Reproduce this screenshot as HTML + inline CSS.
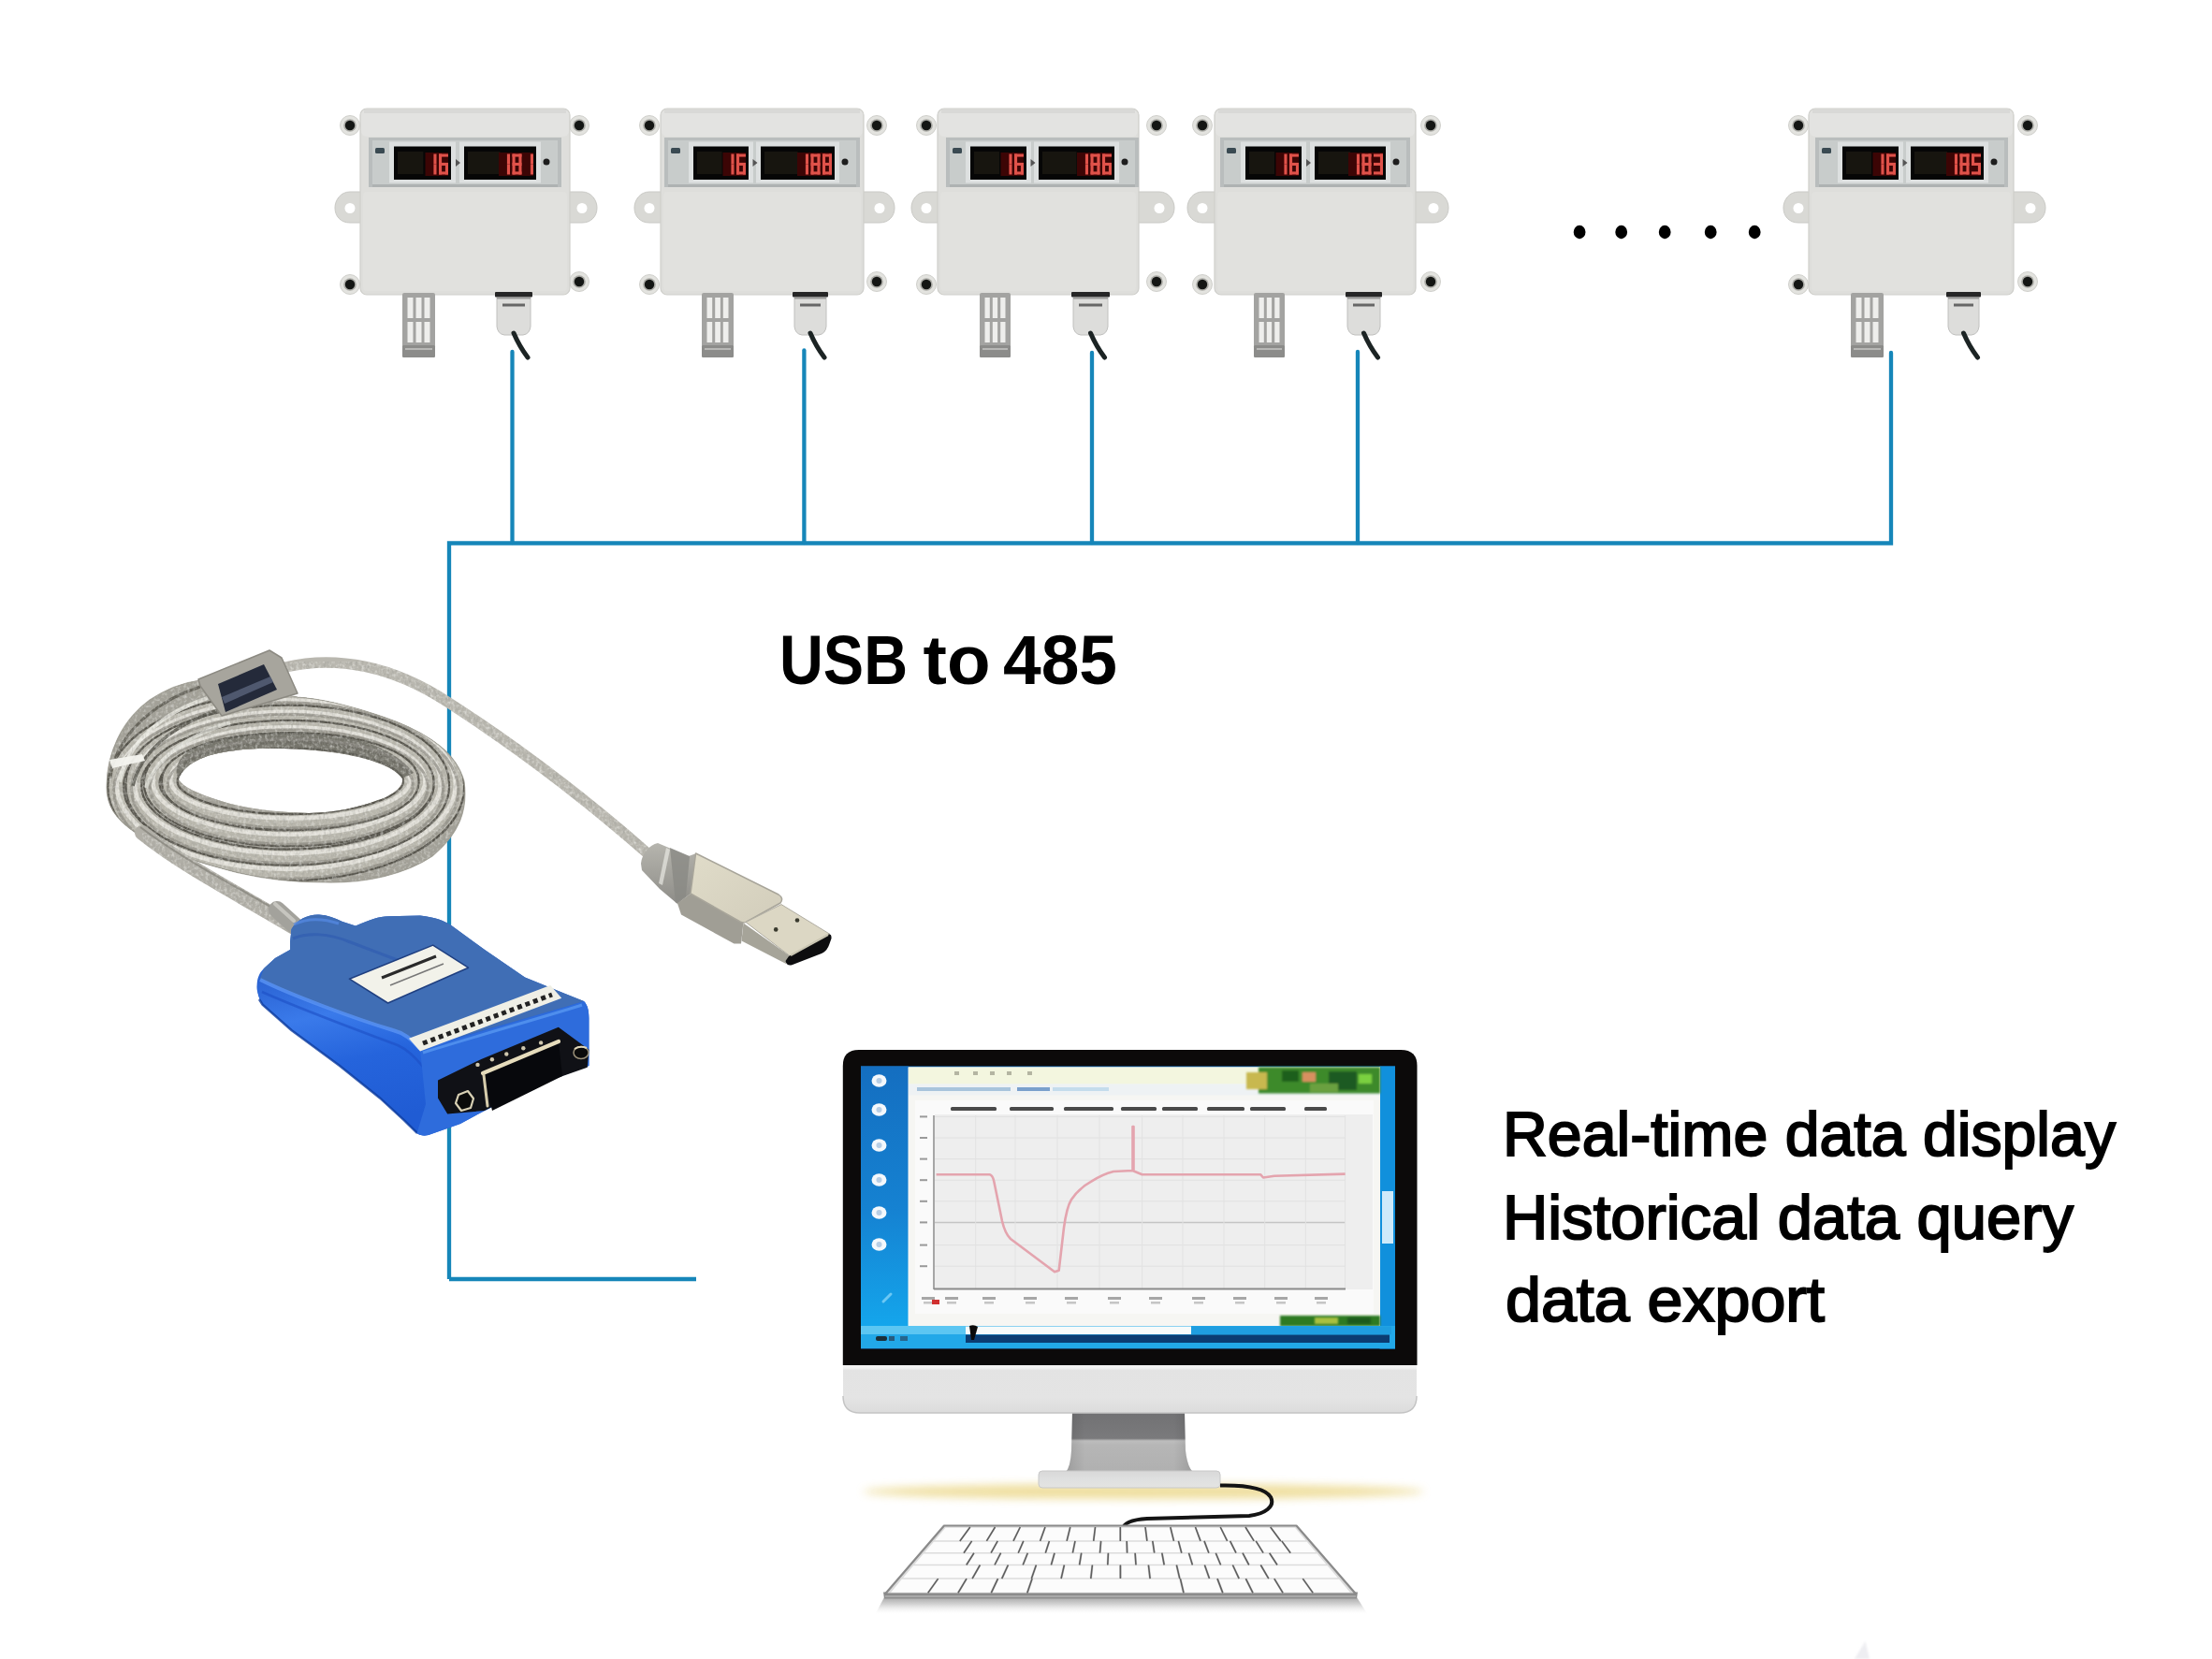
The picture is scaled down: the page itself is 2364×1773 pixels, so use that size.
<!DOCTYPE html>
<html><head><meta charset="utf-8"><title>USB to 485</title>
<style>html,body{margin:0;padding:0;background:#fff;}body{width:2364px;height:1773px;overflow:hidden;font-family:"Liberation Sans",sans-serif;}svg{display:block}</style>
</head><body>
<svg width="2364" height="1773" viewBox="0 0 2364 1773">
<rect width="2364" height="1773" fill="#ffffff"/>
<g stroke="#1686b9" stroke-width="4.3" fill="none" stroke-linecap="butt"><path d="M480 1367 L480 580.5 L2021 580.5 L2021 379"/><path d="M2021 379 L2021 377" stroke-linecap="round"/><path d="M480 1367 L744 1367"/><path d="M547.5 376 L547.5 580" stroke-linecap="round"/><path d="M859.4 374.5 L859.4 580" stroke-linecap="round"/><path d="M1167 377 L1167 580" stroke-linecap="round"/><path d="M1451 376 L1451 580" stroke-linecap="round"/></g><path d="M387 205 L374 205 C364 205 358 214 358 222 C358 231 364 238 374 238 L387 238 Z" fill="#d9d9d5" stroke="#c9c9c5" stroke-width="1"/><circle cx="374" cy="222.5" r="5.5" fill="#fff"/><path d="M607 205 L622 205 C632 205 638 214 638 222 C638 231 632 238 622 238 L607 238 Z" fill="#d9d9d5" stroke="#c9c9c5" stroke-width="1"/><circle cx="622" cy="222.5" r="5.5" fill="#fff"/><circle cx="374" cy="134" r="10.5" fill="#e3e3df" stroke="#d0d0cc" stroke-width="1"/><circle cx="619" cy="134" r="10.5" fill="#e3e3df" stroke="#d0d0cc" stroke-width="1"/><circle cx="374" cy="304" r="10.5" fill="#e3e3df" stroke="#d0d0cc" stroke-width="1"/><circle cx="619" cy="301" r="10.5" fill="#e3e3df" stroke="#d0d0cc" stroke-width="1"/><rect x="385" y="116" width="224" height="199" rx="7" fill="#dedeDB" stroke="#cfcfcb" stroke-width="1.2"/><rect x="388" y="205" width="218" height="106" rx="4" fill="#e1e1de"/><rect x="386" y="117" width="222" height="29" rx="6" fill="#e3e3e1"/><rect x="389" y="117" width="216" height="4" fill="#d9d9d7"/><rect x="394" y="147" width="206" height="53" fill="#b9bdbd"/><rect x="398" y="150" width="198" height="47" fill="#c8cccb"/><rect x="398" y="197" width="198" height="3" fill="#aeb2b2"/><rect x="416" y="151.5" width="71" height="44" fill="#dde0e0"/><rect x="421" y="156.5" width="61" height="35.5" fill="#060606"/><rect x="425" y="162" width="27.4" height="24" fill="#17150f"/><rect x="454.5" y="163" width="24.5" height="25" fill="#3c0505"/><rect x="463.4" y="164.5" width="3.1" height="11.0" fill="#e0524a"/><rect x="463.4" y="175.5" width="3.1" height="11.0" fill="#e0524a"/><rect x="469.0" y="164.5" width="10.0" height="3.1" fill="#e0524a"/><rect x="469.0" y="173.9" width="10.0" height="3.1" fill="#e0524a"/><rect x="469.0" y="183.4" width="10.0" height="3.1" fill="#e0524a"/><rect x="469.0" y="164.5" width="3.1" height="11.0" fill="#e0524a"/><rect x="469.0" y="175.5" width="3.1" height="11.0" fill="#e0524a"/><rect x="475.9" y="175.5" width="3.1" height="11.0" fill="#e0524a"/><rect x="491" y="151.5" width="87" height="44" fill="#dde0e0"/><rect x="496" y="156.5" width="77" height="35.5" fill="#060606"/><rect x="500" y="162" width="34.6" height="24" fill="#17150f"/><rect x="533.0" y="163" width="37.0" height="25" fill="#3c0505"/><rect x="541.9" y="164.5" width="3.1" height="11.0" fill="#e0524a"/><rect x="541.9" y="175.5" width="3.1" height="11.0" fill="#e0524a"/><rect x="547.5" y="164.5" width="10.0" height="3.1" fill="#e0524a"/><rect x="547.5" y="173.9" width="10.0" height="3.1" fill="#e0524a"/><rect x="547.5" y="183.4" width="10.0" height="3.1" fill="#e0524a"/><rect x="547.5" y="164.5" width="3.1" height="11.0" fill="#e0524a"/><rect x="547.5" y="175.5" width="3.1" height="11.0" fill="#e0524a"/><rect x="554.4" y="164.5" width="3.1" height="11.0" fill="#e0524a"/><rect x="554.4" y="175.5" width="3.1" height="11.0" fill="#e0524a"/><rect x="566.9" y="164.5" width="3.1" height="11.0" fill="#e0524a"/><rect x="566.9" y="175.5" width="3.1" height="11.0" fill="#e0524a"/><path d="M487.0 170 l5 4 l-5 4 z" fill="#555"/><circle cx="584" cy="173" r="3.5" fill="#1e1e1e"/><rect x="401" y="158" width="10" height="6" rx="1.5" fill="#3a4a52"/><circle cx="374" cy="134" r="6.8" fill="#a9a9a4"/><circle cx="374" cy="134" r="5.2" fill="#141614"/><circle cx="619" cy="134" r="6.8" fill="#a9a9a4"/><circle cx="619" cy="134" r="5.2" fill="#141614"/><circle cx="374" cy="304" r="6.8" fill="#a9a9a4"/><circle cx="374" cy="304" r="5.2" fill="#141614"/><circle cx="619" cy="301" r="6.8" fill="#a9a9a4"/><circle cx="619" cy="301" r="5.2" fill="#141614"/><rect x="430" y="313" width="35" height="69" rx="2" fill="#a3a3a1"/><rect x="435.5" y="318" width="6.0" height="22" fill="#eeeeec"/><rect x="435.5" y="344" width="6.0" height="22" fill="#eeeeec"/><rect x="444.5" y="318" width="6.0" height="22" fill="#eeeeec"/><rect x="444.5" y="344" width="6.0" height="22" fill="#eeeeec"/><rect x="453.5" y="318" width="6.0" height="22" fill="#eeeeec"/><rect x="453.5" y="344" width="6.0" height="22" fill="#eeeeec"/><rect x="430" y="369" width="35" height="13" rx="1.5" fill="#8c8c8a"/><rect x="433" y="372" width="29" height="2" fill="#b8b8b6"/><path d="M531 318 L567 318 L567 349 Q566 357 559 358 L539 358 Q532 357 531 349 Z" fill="#dddddb" stroke="#c0c0be" stroke-width="1"/><rect x="529" y="312" width="40" height="5.5" rx="1" fill="#262626"/><rect x="531" y="317.5" width="36" height="2" fill="#9a9a98"/><rect x="537" y="324.5" width="24" height="3" fill="#666"/><path d="M549.0 356 Q555.0 370 564.0 382" stroke="#1c2424" stroke-width="5" fill="none" stroke-linecap="round"/><path d="M708 205 L694 205 C684 205 678 214 678 222 C678 231 684 238 694 238 L708 238 Z" fill="#d9d9d5" stroke="#c9c9c5" stroke-width="1"/><circle cx="694" cy="222.5" r="5.5" fill="#fff"/><path d="M921 205 L940 205 C950 205 956 214 956 222 C956 231 950 238 940 238 L921 238 Z" fill="#d9d9d5" stroke="#c9c9c5" stroke-width="1"/><circle cx="940" cy="222.5" r="5.5" fill="#fff"/><circle cx="694" cy="134" r="10.5" fill="#e3e3df" stroke="#d0d0cc" stroke-width="1"/><circle cx="937" cy="134" r="10.5" fill="#e3e3df" stroke="#d0d0cc" stroke-width="1"/><circle cx="694" cy="304" r="10.5" fill="#e3e3df" stroke="#d0d0cc" stroke-width="1"/><circle cx="937" cy="301" r="10.5" fill="#e3e3df" stroke="#d0d0cc" stroke-width="1"/><rect x="706" y="116" width="217" height="199" rx="7" fill="#dedeDB" stroke="#cfcfcb" stroke-width="1.2"/><rect x="709" y="205" width="211" height="106" rx="4" fill="#e1e1de"/><rect x="707" y="117" width="215" height="29" rx="6" fill="#e3e3e1"/><rect x="710" y="117" width="209" height="4" fill="#d9d9d7"/><rect x="710" y="147" width="209" height="53" fill="#b9bdbd"/><rect x="714" y="150" width="201" height="47" fill="#c8cccb"/><rect x="714" y="197" width="201" height="3" fill="#aeb2b2"/><rect x="736" y="151.5" width="69" height="44" fill="#dde0e0"/><rect x="741" y="156.5" width="59" height="35.5" fill="#060606"/><rect x="745" y="162" width="26.6" height="24" fill="#17150f"/><rect x="772.5" y="163" width="24.5" height="25" fill="#3c0505"/><rect x="781.4" y="164.5" width="3.1" height="11.0" fill="#e0524a"/><rect x="781.4" y="175.5" width="3.1" height="11.0" fill="#e0524a"/><rect x="787.0" y="164.5" width="10.0" height="3.1" fill="#e0524a"/><rect x="787.0" y="173.9" width="10.0" height="3.1" fill="#e0524a"/><rect x="787.0" y="183.4" width="10.0" height="3.1" fill="#e0524a"/><rect x="787.0" y="164.5" width="3.1" height="11.0" fill="#e0524a"/><rect x="787.0" y="175.5" width="3.1" height="11.0" fill="#e0524a"/><rect x="793.9" y="175.5" width="3.1" height="11.0" fill="#e0524a"/><rect x="808" y="151.5" width="89" height="44" fill="#dde0e0"/><rect x="813" y="156.5" width="79" height="35.5" fill="#060606"/><rect x="817" y="162" width="35.6" height="24" fill="#17150f"/><rect x="852.0" y="163" width="37.0" height="25" fill="#3c0505"/><rect x="860.9" y="164.5" width="3.1" height="11.0" fill="#e0524a"/><rect x="860.9" y="175.5" width="3.1" height="11.0" fill="#e0524a"/><rect x="866.5" y="164.5" width="10.0" height="3.1" fill="#e0524a"/><rect x="866.5" y="173.9" width="10.0" height="3.1" fill="#e0524a"/><rect x="866.5" y="183.4" width="10.0" height="3.1" fill="#e0524a"/><rect x="866.5" y="164.5" width="3.1" height="11.0" fill="#e0524a"/><rect x="866.5" y="175.5" width="3.1" height="11.0" fill="#e0524a"/><rect x="873.4" y="164.5" width="3.1" height="11.0" fill="#e0524a"/><rect x="873.4" y="175.5" width="3.1" height="11.0" fill="#e0524a"/><rect x="879.0" y="164.5" width="10.0" height="3.1" fill="#e0524a"/><rect x="879.0" y="173.9" width="10.0" height="3.1" fill="#e0524a"/><rect x="879.0" y="183.4" width="10.0" height="3.1" fill="#e0524a"/><rect x="879.0" y="164.5" width="3.1" height="11.0" fill="#e0524a"/><rect x="879.0" y="175.5" width="3.1" height="11.0" fill="#e0524a"/><rect x="885.9" y="164.5" width="3.1" height="11.0" fill="#e0524a"/><rect x="885.9" y="175.5" width="3.1" height="11.0" fill="#e0524a"/><path d="M804.5 170 l5 4 l-5 4 z" fill="#555"/><circle cx="903" cy="173" r="3.5" fill="#1e1e1e"/><rect x="717" y="158" width="10" height="6" rx="1.5" fill="#3a4a52"/><circle cx="694" cy="134" r="6.8" fill="#a9a9a4"/><circle cx="694" cy="134" r="5.2" fill="#141614"/><circle cx="937" cy="134" r="6.8" fill="#a9a9a4"/><circle cx="937" cy="134" r="5.2" fill="#141614"/><circle cx="694" cy="304" r="6.8" fill="#a9a9a4"/><circle cx="694" cy="304" r="5.2" fill="#141614"/><circle cx="937" cy="301" r="6.8" fill="#a9a9a4"/><circle cx="937" cy="301" r="5.2" fill="#141614"/><rect x="750" y="313" width="34" height="69" rx="2" fill="#a3a3a1"/><rect x="755.5" y="318" width="5.7" height="22" fill="#eeeeec"/><rect x="755.5" y="344" width="5.7" height="22" fill="#eeeeec"/><rect x="764.2" y="318" width="5.7" height="22" fill="#eeeeec"/><rect x="764.2" y="344" width="5.7" height="22" fill="#eeeeec"/><rect x="772.8" y="318" width="5.7" height="22" fill="#eeeeec"/><rect x="772.8" y="344" width="5.7" height="22" fill="#eeeeec"/><rect x="750" y="369" width="34" height="13" rx="1.5" fill="#8c8c8a"/><rect x="753" y="372" width="28" height="2" fill="#b8b8b6"/><path d="M849 318 L883 318 L883 349 Q882 357 875 358 L857 358 Q850 357 849 349 Z" fill="#dddddb" stroke="#c0c0be" stroke-width="1"/><rect x="847" y="312" width="38" height="5.5" rx="1" fill="#262626"/><rect x="849" y="317.5" width="34" height="2" fill="#9a9a98"/><rect x="855" y="324.5" width="22" height="3" fill="#666"/><path d="M866.0 356 Q872.0 370 881.0 382" stroke="#1c2424" stroke-width="5" fill="none" stroke-linecap="round"/><path d="M1004 205 L990 205 C980 205 974 214 974 222 C974 231 980 238 990 238 L1004 238 Z" fill="#d9d9d5" stroke="#c9c9c5" stroke-width="1"/><circle cx="990" cy="222.5" r="5.5" fill="#fff"/><path d="M1215 205 L1239 205 C1249 205 1255 214 1255 222 C1255 231 1249 238 1239 238 L1215 238 Z" fill="#d9d9d5" stroke="#c9c9c5" stroke-width="1"/><circle cx="1239" cy="222.5" r="5.5" fill="#fff"/><circle cx="990" cy="134" r="10.5" fill="#e3e3df" stroke="#d0d0cc" stroke-width="1"/><circle cx="1236" cy="134" r="10.5" fill="#e3e3df" stroke="#d0d0cc" stroke-width="1"/><circle cx="990" cy="304" r="10.5" fill="#e3e3df" stroke="#d0d0cc" stroke-width="1"/><circle cx="1236" cy="301" r="10.5" fill="#e3e3df" stroke="#d0d0cc" stroke-width="1"/><rect x="1002" y="116" width="215" height="199" rx="7" fill="#dedeDB" stroke="#cfcfcb" stroke-width="1.2"/><rect x="1005" y="205" width="209" height="106" rx="4" fill="#e1e1de"/><rect x="1003" y="117" width="213" height="29" rx="6" fill="#e3e3e1"/><rect x="1006" y="117" width="207" height="4" fill="#d9d9d7"/><rect x="1011" y="147" width="206" height="53" fill="#b9bdbd"/><rect x="1015" y="150" width="198" height="47" fill="#c8cccb"/><rect x="1015" y="197" width="198" height="3" fill="#aeb2b2"/><rect x="1032" y="151.5" width="70" height="44" fill="#dde0e0"/><rect x="1037" y="156.5" width="60" height="35.5" fill="#060606"/><rect x="1041" y="162" width="27.0" height="24" fill="#17150f"/><rect x="1069.5" y="163" width="24.5" height="25" fill="#3c0505"/><rect x="1078.4" y="164.5" width="3.1" height="11.0" fill="#e0524a"/><rect x="1078.4" y="175.5" width="3.1" height="11.0" fill="#e0524a"/><rect x="1084.0" y="164.5" width="10.0" height="3.1" fill="#e0524a"/><rect x="1084.0" y="173.9" width="10.0" height="3.1" fill="#e0524a"/><rect x="1084.0" y="183.4" width="10.0" height="3.1" fill="#e0524a"/><rect x="1084.0" y="164.5" width="3.1" height="11.0" fill="#e0524a"/><rect x="1084.0" y="175.5" width="3.1" height="11.0" fill="#e0524a"/><rect x="1090.9" y="175.5" width="3.1" height="11.0" fill="#e0524a"/><rect x="1105" y="151.5" width="91" height="44" fill="#dde0e0"/><rect x="1110" y="156.5" width="81" height="35.5" fill="#060606"/><rect x="1114" y="162" width="36.5" height="24" fill="#17150f"/><rect x="1151.0" y="163" width="37.0" height="25" fill="#3c0505"/><rect x="1159.9" y="164.5" width="3.1" height="11.0" fill="#e0524a"/><rect x="1159.9" y="175.5" width="3.1" height="11.0" fill="#e0524a"/><rect x="1165.5" y="164.5" width="10.0" height="3.1" fill="#e0524a"/><rect x="1165.5" y="173.9" width="10.0" height="3.1" fill="#e0524a"/><rect x="1165.5" y="183.4" width="10.0" height="3.1" fill="#e0524a"/><rect x="1165.5" y="164.5" width="3.1" height="11.0" fill="#e0524a"/><rect x="1165.5" y="175.5" width="3.1" height="11.0" fill="#e0524a"/><rect x="1172.4" y="164.5" width="3.1" height="11.0" fill="#e0524a"/><rect x="1172.4" y="175.5" width="3.1" height="11.0" fill="#e0524a"/><rect x="1178.0" y="164.5" width="10.0" height="3.1" fill="#e0524a"/><rect x="1178.0" y="173.9" width="10.0" height="3.1" fill="#e0524a"/><rect x="1178.0" y="183.4" width="10.0" height="3.1" fill="#e0524a"/><rect x="1178.0" y="164.5" width="3.1" height="11.0" fill="#e0524a"/><rect x="1178.0" y="175.5" width="3.1" height="11.0" fill="#e0524a"/><rect x="1184.9" y="175.5" width="3.1" height="11.0" fill="#e0524a"/><path d="M1101.5 170 l5 4 l-5 4 z" fill="#555"/><circle cx="1202" cy="173" r="3.5" fill="#1e1e1e"/><rect x="1018" y="158" width="10" height="6" rx="1.5" fill="#3a4a52"/><circle cx="990" cy="134" r="6.8" fill="#a9a9a4"/><circle cx="990" cy="134" r="5.2" fill="#141614"/><circle cx="1236" cy="134" r="6.8" fill="#a9a9a4"/><circle cx="1236" cy="134" r="5.2" fill="#141614"/><circle cx="990" cy="304" r="6.8" fill="#a9a9a4"/><circle cx="990" cy="304" r="5.2" fill="#141614"/><circle cx="1236" cy="301" r="6.8" fill="#a9a9a4"/><circle cx="1236" cy="301" r="5.2" fill="#141614"/><rect x="1047" y="313" width="33" height="69" rx="2" fill="#a3a3a1"/><rect x="1052.5" y="318" width="5.3" height="22" fill="#eeeeec"/><rect x="1052.5" y="344" width="5.3" height="22" fill="#eeeeec"/><rect x="1060.8" y="318" width="5.3" height="22" fill="#eeeeec"/><rect x="1060.8" y="344" width="5.3" height="22" fill="#eeeeec"/><rect x="1069.2" y="318" width="5.3" height="22" fill="#eeeeec"/><rect x="1069.2" y="344" width="5.3" height="22" fill="#eeeeec"/><rect x="1047" y="369" width="33" height="13" rx="1.5" fill="#8c8c8a"/><rect x="1050" y="372" width="27" height="2" fill="#b8b8b6"/><path d="M1147 318 L1184 318 L1184 349 Q1183 357 1176 358 L1155 358 Q1148 357 1147 349 Z" fill="#dddddb" stroke="#c0c0be" stroke-width="1"/><rect x="1145" y="312" width="41" height="5.5" rx="1" fill="#262626"/><rect x="1147" y="317.5" width="37" height="2" fill="#9a9a98"/><rect x="1153" y="324.5" width="25" height="3" fill="#666"/><path d="M1165.5 356 Q1171.5 370 1180.5 382" stroke="#1c2424" stroke-width="5" fill="none" stroke-linecap="round"/><path d="M1300 205 L1285 205 C1275 205 1269 214 1269 222 C1269 231 1275 238 1285 238 L1300 238 Z" fill="#d9d9d5" stroke="#c9c9c5" stroke-width="1"/><circle cx="1285" cy="222.5" r="5.5" fill="#fff"/><path d="M1511 205 L1532 205 C1542 205 1548 214 1548 222 C1548 231 1542 238 1532 238 L1511 238 Z" fill="#d9d9d5" stroke="#c9c9c5" stroke-width="1"/><circle cx="1532" cy="222.5" r="5.5" fill="#fff"/><circle cx="1285" cy="134" r="10.5" fill="#e3e3df" stroke="#d0d0cc" stroke-width="1"/><circle cx="1529" cy="134" r="10.5" fill="#e3e3df" stroke="#d0d0cc" stroke-width="1"/><circle cx="1285" cy="304" r="10.5" fill="#e3e3df" stroke="#d0d0cc" stroke-width="1"/><circle cx="1529" cy="301" r="10.5" fill="#e3e3df" stroke="#d0d0cc" stroke-width="1"/><rect x="1298" y="116" width="215" height="199" rx="7" fill="#dedeDB" stroke="#cfcfcb" stroke-width="1.2"/><rect x="1301" y="205" width="209" height="106" rx="4" fill="#e1e1de"/><rect x="1299" y="117" width="213" height="29" rx="6" fill="#e3e3e1"/><rect x="1302" y="117" width="207" height="4" fill="#d9d9d7"/><rect x="1304" y="147" width="203" height="53" fill="#b9bdbd"/><rect x="1308" y="150" width="195" height="47" fill="#c8cccb"/><rect x="1308" y="197" width="195" height="3" fill="#aeb2b2"/><rect x="1326" y="151.5" width="70" height="44" fill="#dde0e0"/><rect x="1331" y="156.5" width="60" height="35.5" fill="#060606"/><rect x="1335" y="162" width="27.0" height="24" fill="#17150f"/><rect x="1363.5" y="163" width="24.5" height="25" fill="#3c0505"/><rect x="1372.4" y="164.5" width="3.1" height="11.0" fill="#e0524a"/><rect x="1372.4" y="175.5" width="3.1" height="11.0" fill="#e0524a"/><rect x="1378.0" y="164.5" width="10.0" height="3.1" fill="#e0524a"/><rect x="1378.0" y="173.9" width="10.0" height="3.1" fill="#e0524a"/><rect x="1378.0" y="183.4" width="10.0" height="3.1" fill="#e0524a"/><rect x="1378.0" y="164.5" width="3.1" height="11.0" fill="#e0524a"/><rect x="1378.0" y="175.5" width="3.1" height="11.0" fill="#e0524a"/><rect x="1384.9" y="175.5" width="3.1" height="11.0" fill="#e0524a"/><rect x="1400" y="151.5" width="86" height="44" fill="#dde0e0"/><rect x="1405" y="156.5" width="76" height="35.5" fill="#060606"/><rect x="1409" y="162" width="34.2" height="24" fill="#17150f"/><rect x="1441.0" y="163" width="37.0" height="25" fill="#3c0505"/><rect x="1449.9" y="164.5" width="3.1" height="11.0" fill="#e0524a"/><rect x="1449.9" y="175.5" width="3.1" height="11.0" fill="#e0524a"/><rect x="1455.5" y="164.5" width="10.0" height="3.1" fill="#e0524a"/><rect x="1455.5" y="173.9" width="10.0" height="3.1" fill="#e0524a"/><rect x="1455.5" y="183.4" width="10.0" height="3.1" fill="#e0524a"/><rect x="1455.5" y="164.5" width="3.1" height="11.0" fill="#e0524a"/><rect x="1455.5" y="175.5" width="3.1" height="11.0" fill="#e0524a"/><rect x="1462.4" y="164.5" width="3.1" height="11.0" fill="#e0524a"/><rect x="1462.4" y="175.5" width="3.1" height="11.0" fill="#e0524a"/><rect x="1468.0" y="164.5" width="10.0" height="3.1" fill="#e0524a"/><rect x="1468.0" y="173.9" width="10.0" height="3.1" fill="#e0524a"/><rect x="1468.0" y="183.4" width="10.0" height="3.1" fill="#e0524a"/><rect x="1474.9" y="164.5" width="3.1" height="11.0" fill="#e0524a"/><rect x="1474.9" y="175.5" width="3.1" height="11.0" fill="#e0524a"/><path d="M1396.0 170 l5 4 l-5 4 z" fill="#555"/><circle cx="1492" cy="173" r="3.5" fill="#1e1e1e"/><rect x="1311" y="158" width="10" height="6" rx="1.5" fill="#3a4a52"/><circle cx="1285" cy="134" r="6.8" fill="#a9a9a4"/><circle cx="1285" cy="134" r="5.2" fill="#141614"/><circle cx="1529" cy="134" r="6.8" fill="#a9a9a4"/><circle cx="1529" cy="134" r="5.2" fill="#141614"/><circle cx="1285" cy="304" r="6.8" fill="#a9a9a4"/><circle cx="1285" cy="304" r="5.2" fill="#141614"/><circle cx="1529" cy="301" r="6.8" fill="#a9a9a4"/><circle cx="1529" cy="301" r="5.2" fill="#141614"/><rect x="1340" y="313" width="33" height="69" rx="2" fill="#a3a3a1"/><rect x="1345.5" y="318" width="5.3" height="22" fill="#eeeeec"/><rect x="1345.5" y="344" width="5.3" height="22" fill="#eeeeec"/><rect x="1353.8" y="318" width="5.3" height="22" fill="#eeeeec"/><rect x="1353.8" y="344" width="5.3" height="22" fill="#eeeeec"/><rect x="1362.2" y="318" width="5.3" height="22" fill="#eeeeec"/><rect x="1362.2" y="344" width="5.3" height="22" fill="#eeeeec"/><rect x="1340" y="369" width="33" height="13" rx="1.5" fill="#8c8c8a"/><rect x="1343" y="372" width="27" height="2" fill="#b8b8b6"/><path d="M1440 318 L1475 318 L1475 349 Q1474 357 1467 358 L1448 358 Q1441 357 1440 349 Z" fill="#dddddb" stroke="#c0c0be" stroke-width="1"/><rect x="1438" y="312" width="39" height="5.5" rx="1" fill="#262626"/><rect x="1440" y="317.5" width="35" height="2" fill="#9a9a98"/><rect x="1446" y="324.5" width="23" height="3" fill="#666"/><path d="M1457.5 356 Q1463.5 370 1472.5 382" stroke="#1c2424" stroke-width="5" fill="none" stroke-linecap="round"/><path d="M1935 205 L1922 205 C1912 205 1906 214 1906 222 C1906 231 1912 238 1922 238 L1935 238 Z" fill="#d9d9d5" stroke="#c9c9c5" stroke-width="1"/><circle cx="1922" cy="222.5" r="5.5" fill="#fff"/><path d="M2150 205 L2170 205 C2180 205 2186 214 2186 222 C2186 231 2180 238 2170 238 L2150 238 Z" fill="#d9d9d5" stroke="#c9c9c5" stroke-width="1"/><circle cx="2170" cy="222.5" r="5.5" fill="#fff"/><circle cx="1922" cy="134" r="10.5" fill="#e3e3df" stroke="#d0d0cc" stroke-width="1"/><circle cx="2167" cy="134" r="10.5" fill="#e3e3df" stroke="#d0d0cc" stroke-width="1"/><circle cx="1922" cy="304" r="10.5" fill="#e3e3df" stroke="#d0d0cc" stroke-width="1"/><circle cx="2167" cy="301" r="10.5" fill="#e3e3df" stroke="#d0d0cc" stroke-width="1"/><rect x="1933" y="116" width="219" height="199" rx="7" fill="#dedeDB" stroke="#cfcfcb" stroke-width="1.2"/><rect x="1936" y="205" width="213" height="106" rx="4" fill="#e1e1de"/><rect x="1934" y="117" width="217" height="29" rx="6" fill="#e3e3e1"/><rect x="1937" y="117" width="211" height="4" fill="#d9d9d7"/><rect x="1940" y="147" width="206" height="53" fill="#b9bdbd"/><rect x="1944" y="150" width="198" height="47" fill="#c8cccb"/><rect x="1944" y="197" width="198" height="3" fill="#aeb2b2"/><rect x="1964" y="151.5" width="70" height="44" fill="#dde0e0"/><rect x="1969" y="156.5" width="60" height="35.5" fill="#060606"/><rect x="1973" y="162" width="27.0" height="24" fill="#17150f"/><rect x="2001.5" y="163" width="24.5" height="25" fill="#3c0505"/><rect x="2010.4" y="164.5" width="3.1" height="11.0" fill="#e0524a"/><rect x="2010.4" y="175.5" width="3.1" height="11.0" fill="#e0524a"/><rect x="2016.0" y="164.5" width="10.0" height="3.1" fill="#e0524a"/><rect x="2016.0" y="173.9" width="10.0" height="3.1" fill="#e0524a"/><rect x="2016.0" y="183.4" width="10.0" height="3.1" fill="#e0524a"/><rect x="2016.0" y="164.5" width="3.1" height="11.0" fill="#e0524a"/><rect x="2016.0" y="175.5" width="3.1" height="11.0" fill="#e0524a"/><rect x="2022.9" y="175.5" width="3.1" height="11.0" fill="#e0524a"/><rect x="2037" y="151.5" width="88" height="44" fill="#dde0e0"/><rect x="2042" y="156.5" width="78" height="35.5" fill="#060606"/><rect x="2046" y="162" width="35.1" height="24" fill="#17150f"/><rect x="2080.0" y="163" width="37.0" height="25" fill="#3c0505"/><rect x="2088.9" y="164.5" width="3.1" height="11.0" fill="#e0524a"/><rect x="2088.9" y="175.5" width="3.1" height="11.0" fill="#e0524a"/><rect x="2094.5" y="164.5" width="10.0" height="3.1" fill="#e0524a"/><rect x="2094.5" y="173.9" width="10.0" height="3.1" fill="#e0524a"/><rect x="2094.5" y="183.4" width="10.0" height="3.1" fill="#e0524a"/><rect x="2094.5" y="164.5" width="3.1" height="11.0" fill="#e0524a"/><rect x="2094.5" y="175.5" width="3.1" height="11.0" fill="#e0524a"/><rect x="2101.4" y="164.5" width="3.1" height="11.0" fill="#e0524a"/><rect x="2101.4" y="175.5" width="3.1" height="11.0" fill="#e0524a"/><rect x="2107.0" y="164.5" width="10.0" height="3.1" fill="#e0524a"/><rect x="2107.0" y="173.9" width="10.0" height="3.1" fill="#e0524a"/><rect x="2107.0" y="183.4" width="10.0" height="3.1" fill="#e0524a"/><rect x="2107.0" y="164.5" width="3.1" height="11.0" fill="#e0524a"/><rect x="2113.9" y="175.5" width="3.1" height="11.0" fill="#e0524a"/><path d="M2033.5 170 l5 4 l-5 4 z" fill="#555"/><circle cx="2131" cy="173" r="3.5" fill="#1e1e1e"/><rect x="1947" y="158" width="10" height="6" rx="1.5" fill="#3a4a52"/><circle cx="1922" cy="134" r="6.8" fill="#a9a9a4"/><circle cx="1922" cy="134" r="5.2" fill="#141614"/><circle cx="2167" cy="134" r="6.8" fill="#a9a9a4"/><circle cx="2167" cy="134" r="5.2" fill="#141614"/><circle cx="1922" cy="304" r="6.8" fill="#a9a9a4"/><circle cx="1922" cy="304" r="5.2" fill="#141614"/><circle cx="2167" cy="301" r="6.8" fill="#a9a9a4"/><circle cx="2167" cy="301" r="5.2" fill="#141614"/><rect x="1978" y="313" width="35" height="69" rx="2" fill="#a3a3a1"/><rect x="1983.5" y="318" width="6.0" height="22" fill="#eeeeec"/><rect x="1983.5" y="344" width="6.0" height="22" fill="#eeeeec"/><rect x="1992.5" y="318" width="6.0" height="22" fill="#eeeeec"/><rect x="1992.5" y="344" width="6.0" height="22" fill="#eeeeec"/><rect x="2001.5" y="318" width="6.0" height="22" fill="#eeeeec"/><rect x="2001.5" y="344" width="6.0" height="22" fill="#eeeeec"/><rect x="1978" y="369" width="35" height="13" rx="1.5" fill="#8c8c8a"/><rect x="1981" y="372" width="29" height="2" fill="#b8b8b6"/><path d="M2082 318 L2115 318 L2115 349 Q2114 357 2107 358 L2090 358 Q2083 357 2082 349 Z" fill="#dddddb" stroke="#c0c0be" stroke-width="1"/><rect x="2080" y="312" width="37" height="5.5" rx="1" fill="#262626"/><rect x="2082" y="317.5" width="33" height="2" fill="#9a9a98"/><rect x="2088" y="324.5" width="21" height="3" fill="#666"/><path d="M2098.5 356 Q2104.5 370 2113.5 382" stroke="#1c2424" stroke-width="5" fill="none" stroke-linecap="round"/><defs><filter id="blur6" x="-20%" y="-200%" width="140%" height="500%"><feGaussianBlur stdDeviation="5"/></filter><filter id="blur3" x="-20%" y="-50%" width="140%" height="200%"><feGaussianBlur stdDeviation="3"/></filter><filter id="blur1" x="-10%" y="-10%" width="120%" height="120%"><feGaussianBlur stdDeviation="0.8"/></filter><linearGradient id="chinG" x1="0" y1="0" x2="0" y2="1"><stop offset="0" stop-color="#f4f4f4"/><stop offset="0.11" stop-color="#f2f2f2"/><stop offset="0.16" stop-color="#e3e3e3"/><stop offset="0.7" stop-color="#e4e4e4"/><stop offset="1" stop-color="#dcdcdc"/></linearGradient><linearGradient id="neckG" x1="0" y1="0" x2="0" y2="1"><stop offset="0" stop-color="#717173"/><stop offset="0.45" stop-color="#7a7a7c"/><stop offset="0.49" stop-color="#bdbdbd"/><stop offset="0.56" stop-color="#b6b6b6"/><stop offset="1" stop-color="#b0b0b0"/></linearGradient><linearGradient id="neckH" x1="0" y1="0" x2="1" y2="0"><stop offset="0" stop-color="#000" stop-opacity="0.12"/><stop offset="0.15" stop-color="#000" stop-opacity="0"/><stop offset="0.85" stop-color="#000" stop-opacity="0"/><stop offset="1" stop-color="#000" stop-opacity="0.12"/></linearGradient><linearGradient id="baseG" x1="0" y1="0" x2="0" y2="1"><stop offset="0" stop-color="#d8d8d8"/><stop offset="0.5" stop-color="#dfe0e0"/><stop offset="1" stop-color="#e4e4e2"/></linearGradient><linearGradient id="sideBlue" x1="0" y1="0" x2="0" y2="1"><stop offset="0" stop-color="#146ec0"/><stop offset="0.55" stop-color="#1582d2"/><stop offset="1" stop-color="#14a6ec"/></linearGradient><linearGradient id="taskG" x1="0" y1="0" x2="0" y2="1"><stop offset="0" stop-color="#cfe6f6"/><stop offset="0.35" stop-color="#ffffff"/><stop offset="0.45" stop-color="#2a78c0"/><stop offset="1" stop-color="#0c4f9c"/></linearGradient><linearGradient id="kbShadow" x1="0" y1="0" x2="0" y2="1"><stop offset="0" stop-color="#a8a8a8"/><stop offset="0.4" stop-color="#d4d4d4"/><stop offset="1" stop-color="#ffffff" stop-opacity="0"/></linearGradient><radialGradient id="glowG" cx="0.5" cy="0.5" r="0.5"><stop offset="0" stop-color="#f0dc96"/><stop offset="0.6" stop-color="#f6ebc4"/><stop offset="1" stop-color="#ffffff" stop-opacity="0"/></radialGradient></defs><ellipse cx="1222" cy="1594" rx="300" ry="8" fill="#eedd9a" filter="url(#blur6)" opacity="0.95"/><path d="M1146 1508 L1266 1508 L1267 1550 Q1269 1568 1275 1573 L1139 1573 Q1144 1568 1145 1550 Z" fill="url(#neckG)"/><path d="M1146 1508 L1266 1508 L1267 1550 Q1269 1568 1275 1573 L1139 1573 Q1144 1568 1145 1550 Z" fill="url(#neckH)"/><path d="M1114 1572 L1300 1572 Q1304 1572 1304 1576 L1304 1586 Q1304 1590 1300 1590 L1114 1590 Q1110 1590 1110 1586 L1110 1576 Q1110 1572 1114 1572 Z" fill="url(#baseG)" stroke="#c8c8c8" stroke-width="1"/><path d="M901 1456 L1514 1456 L1514 1492 Q1514 1510 1496 1510 L919 1510 Q901 1510 901 1492 Z" fill="url(#chinG)"/><path d="M901 1492 Q901 1510 919 1510 L1496 1510 Q1514 1510 1514 1492" fill="none" stroke="#c4c4c4" stroke-width="1.5"/><path d="M918 1122 L1497 1122 Q1514.5 1122 1514.5 1139 L1514.5 1459 L900.8 1459 L900.8 1139 Q900.8 1122 918 1122 Z" fill="#0c0a0a"/><rect x="920" y="1139.5" width="571" height="302" fill="#1a78c8"/><rect x="920" y="1139.5" width="51" height="280" fill="url(#sideBlue)"/><ellipse cx="939.5" cy="1155" rx="8" ry="6.8" fill="#f4f8fc"/><circle cx="939.5" cy="1155" r="3" fill="#7aa4d0" opacity="0.5"/><ellipse cx="939.5" cy="1186" rx="8" ry="6.8" fill="#f4f8fc"/><circle cx="939.5" cy="1186" r="3" fill="#7aa4d0" opacity="0.5"/><ellipse cx="939.5" cy="1224" rx="8" ry="6.8" fill="#f4f8fc"/><circle cx="939.5" cy="1224" r="3" fill="#7aa4d0" opacity="0.5"/><ellipse cx="939.5" cy="1261" rx="8" ry="6.8" fill="#f4f8fc"/><circle cx="939.5" cy="1261" r="3" fill="#7aa4d0" opacity="0.5"/><ellipse cx="939.5" cy="1296" rx="8" ry="6.8" fill="#f4f8fc"/><circle cx="939.5" cy="1296" r="3" fill="#7aa4d0" opacity="0.5"/><ellipse cx="939.5" cy="1330" rx="8" ry="6.8" fill="#f4f8fc"/><circle cx="939.5" cy="1330" r="3" fill="#7aa4d0" opacity="0.5"/><path d="M944 1391 L952 1383" stroke="#6cc8f4" stroke-width="3" stroke-linecap="round"/><rect x="1474.5" y="1139.5" width="16.5" height="302" fill="#1190dc"/><rect x="1477" y="1273" width="12" height="56" fill="#cfeafa"/><rect x="970.5" y="1140.5" width="504.5" height="277" fill="#f6f6f3"/><rect x="971" y="1140.5" width="504" height="18" fill="#f3f6df"/><rect x="971" y="1158.5" width="504" height="12" fill="#eef2f4"/><rect x="980" y="1162" width="100" height="4" fill="#a8c4dc"/><rect x="1087" y="1162" width="35" height="4" fill="#7aa0cc"/><rect x="1125" y="1162" width="60" height="4" fill="#c4dcec"/><rect x="1020" y="1145" width="5" height="4" fill="#8a8a7a" opacity="0.6"/><rect x="1040" y="1145" width="5" height="4" fill="#8a8a7a" opacity="0.6"/><rect x="1058" y="1145" width="5" height="4" fill="#8a8a7a" opacity="0.6"/><rect x="1076" y="1145" width="5" height="4" fill="#8a8a7a" opacity="0.6"/><rect x="1098" y="1145" width="5" height="4" fill="#8a8a7a" opacity="0.6"/><g filter="url(#blur1)"><rect x="1345" y="1140.5" width="130" height="28" fill="#3e8a2c"/><rect x="1332" y="1146" width="22" height="18" fill="#c8b850"/><rect x="1370" y="1144" width="18" height="12" fill="#1f5e1a"/><rect x="1392" y="1146" width="14" height="10" fill="#d89060"/><rect x="1420" y="1145" width="30" height="20" fill="#1a5a22"/><rect x="1452" y="1148" width="14" height="10" fill="#7ad040"/><rect x="1400" y="1158" width="30" height="9" fill="#6aa040"/></g><rect x="1368" y="1406" width="107" height="11.5" fill="#2f7a22" filter="url(#blur1)"/><rect x="1405" y="1408" width="25" height="7" fill="#a8c040" filter="url(#blur1)"/><rect x="1440" y="1408" width="25" height="7" fill="#1c5a1c" filter="url(#blur1)"/><rect x="978" y="1176" width="490" height="228" fill="#fafafa"/><rect x="999" y="1191" width="468" height="187" fill="#eeeeee"/><rect x="1016" y="1183" width="49" height="4" rx="1.5" fill="#2a2a2a" opacity="0.85"/><rect x="1079" y="1183" width="47" height="4" rx="1.5" fill="#2a2a2a" opacity="0.85"/><rect x="1137" y="1183" width="53" height="4" rx="1.5" fill="#2a2a2a" opacity="0.85"/><rect x="1198" y="1183" width="38" height="4" rx="1.5" fill="#2a2a2a" opacity="0.85"/><rect x="1242" y="1183" width="38" height="4" rx="1.5" fill="#2a2a2a" opacity="0.85"/><rect x="1290" y="1183" width="40" height="4" rx="1.5" fill="#2a2a2a" opacity="0.85"/><rect x="1336" y="1183" width="38" height="4" rx="1.5" fill="#2a2a2a" opacity="0.85"/><rect x="1394" y="1183" width="24" height="4" rx="1.5" fill="#2a2a2a" opacity="0.85"/><line x1="999" y1="1193.4" x2="1438" y2="1193.4" stroke="#e0e0e0" stroke-width="1"/><line x1="999" y1="1216" x2="1438" y2="1216" stroke="#e0e0e0" stroke-width="1"/><line x1="999" y1="1238.6" x2="1438" y2="1238.6" stroke="#e0e0e0" stroke-width="1"/><line x1="999" y1="1261.2" x2="1438" y2="1261.2" stroke="#e0e0e0" stroke-width="1"/><line x1="999" y1="1283.8" x2="1438" y2="1283.8" stroke="#e0e0e0" stroke-width="1"/><line x1="999" y1="1330.6" x2="1438" y2="1330.6" stroke="#e0e0e0" stroke-width="1"/><line x1="999" y1="1353.2" x2="1438" y2="1353.2" stroke="#e0e0e0" stroke-width="1"/><line x1="999" y1="1306.4" x2="1438" y2="1306.4" stroke="#c4c4c4" stroke-width="1.5"/><line x1="1042.7" y1="1192" x2="1042.7" y2="1377" stroke="#e2e2e2" stroke-width="1"/><line x1="1085" y1="1192" x2="1085" y2="1377" stroke="#e2e2e2" stroke-width="1"/><line x1="1130" y1="1192" x2="1130" y2="1377" stroke="#e2e2e2" stroke-width="1"/><line x1="1175" y1="1192" x2="1175" y2="1377" stroke="#e2e2e2" stroke-width="1"/><line x1="1220.6" y1="1192" x2="1220.6" y2="1377" stroke="#e2e2e2" stroke-width="1"/><line x1="1264" y1="1192" x2="1264" y2="1377" stroke="#e2e2e2" stroke-width="1"/><line x1="1308" y1="1192" x2="1308" y2="1377" stroke="#e2e2e2" stroke-width="1"/><line x1="1351.7" y1="1192" x2="1351.7" y2="1377" stroke="#e2e2e2" stroke-width="1"/><line x1="1395.4" y1="1192" x2="1395.4" y2="1377" stroke="#e2e2e2" stroke-width="1"/><line x1="1437.6" y1="1192" x2="1437.6" y2="1377" stroke="#e2e2e2" stroke-width="1"/><line x1="998" y1="1192" x2="998" y2="1378" stroke="#8a8a8a" stroke-width="1.5"/><line x1="998" y1="1377.5" x2="1438" y2="1377.5" stroke="#8a8a8a" stroke-width="1.8"/><rect x="983" y="1192.4" width="8" height="2" fill="#4a4a4a" opacity="0.55"/><rect x="983" y="1215.0" width="8" height="2" fill="#4a4a4a" opacity="0.55"/><rect x="983" y="1237.6" width="8" height="2" fill="#4a4a4a" opacity="0.55"/><rect x="983" y="1260.2" width="8" height="2" fill="#4a4a4a" opacity="0.55"/><rect x="983" y="1282.8" width="8" height="2" fill="#4a4a4a" opacity="0.55"/><rect x="983" y="1305.4" width="8" height="2" fill="#4a4a4a" opacity="0.55"/><rect x="983" y="1329.6" width="8" height="2" fill="#4a4a4a" opacity="0.55"/><rect x="983" y="1352.2" width="8" height="2" fill="#4a4a4a" opacity="0.55"/><rect x="985" y="1386" width="14" height="3" fill="#707070" opacity="0.6"/><rect x="987" y="1391" width="10" height="2.5" fill="#909090" opacity="0.5"/><rect x="1010" y="1386" width="14" height="3" fill="#707070" opacity="0.6"/><rect x="1012" y="1391" width="10" height="2.5" fill="#909090" opacity="0.5"/><rect x="1050" y="1386" width="14" height="3" fill="#707070" opacity="0.6"/><rect x="1052" y="1391" width="10" height="2.5" fill="#909090" opacity="0.5"/><rect x="1094" y="1386" width="14" height="3" fill="#707070" opacity="0.6"/><rect x="1096" y="1391" width="10" height="2.5" fill="#909090" opacity="0.5"/><rect x="1138" y="1386" width="14" height="3" fill="#707070" opacity="0.6"/><rect x="1140" y="1391" width="10" height="2.5" fill="#909090" opacity="0.5"/><rect x="1184" y="1386" width="14" height="3" fill="#707070" opacity="0.6"/><rect x="1186" y="1391" width="10" height="2.5" fill="#909090" opacity="0.5"/><rect x="1228" y="1386" width="14" height="3" fill="#707070" opacity="0.6"/><rect x="1230" y="1391" width="10" height="2.5" fill="#909090" opacity="0.5"/><rect x="1274" y="1386" width="14" height="3" fill="#707070" opacity="0.6"/><rect x="1276" y="1391" width="10" height="2.5" fill="#909090" opacity="0.5"/><rect x="1318" y="1386" width="14" height="3" fill="#707070" opacity="0.6"/><rect x="1320" y="1391" width="10" height="2.5" fill="#909090" opacity="0.5"/><rect x="1362" y="1386" width="14" height="3" fill="#707070" opacity="0.6"/><rect x="1364" y="1391" width="10" height="2.5" fill="#909090" opacity="0.5"/><rect x="1405" y="1386" width="14" height="3" fill="#707070" opacity="0.6"/><rect x="1407" y="1391" width="10" height="2.5" fill="#909090" opacity="0.5"/><rect x="996" y="1389" width="8" height="5" fill="#d03030"/><path d="M1000.6 1255.2 L1057.8 1255.2 Q1061 1256 1062.3 1262.7 L1071 1305 Q1074 1318 1080 1324 L1127.1 1359.2 L1131.7 1357.7 L1137 1312 Q1140 1290 1145 1282 Q1153 1270 1166.3 1262.7 Q1178 1255 1190 1252 L1210.5 1251 L1210.5 1204 L1211.5 1204 L1211.5 1251.5 L1220.6 1255.2 L1347.1 1255.2 L1350 1258.5 L1362 1256.7 L1437.6 1254.6" fill="none" stroke="#e4a4ae" stroke-width="2.6" stroke-linejoin="round"/><rect x="920" y="1417" width="571" height="24" fill="#22a8e8"/><rect x="920" y="1417" width="112" height="9" fill="#5cc6f2"/><rect x="1032" y="1417.5" width="241" height="8.5" fill="#f6fafa"/><rect x="1032" y="1426.5" width="453" height="8.5" fill="#0b3c72"/><rect x="1273" y="1417.5" width="214" height="8.5" fill="#1f9ee0"/><path d="M1036 1417 Q1041 1415 1045 1418 L1041 1432 L1038 1432 Z" fill="#0a0a0a"/><rect x="936" y="1428" width="12" height="5" rx="2" fill="#1a1a1a" opacity="0.85"/><rect x="950" y="1428" width="6" height="5" fill="#2a3a50" opacity="0.7"/><rect x="962" y="1428" width="8" height="5" fill="#2a3a50" opacity="0.6"/><path d="M1304 1587.5 C1330 1587 1352 1590 1358 1600 C1363 1610 1352 1618 1335 1620 L1226 1623 C1210 1624 1201 1627 1200 1634" fill="none" stroke="#141414" stroke-width="4"/><path d="M945 1707 L1450 1707 L1462 1726 L935 1726 Z" fill="url(#kbShadow)"/><path d="M944 1701.5 L1451 1701.5 L1450 1708.5 L945 1708.5 Z" fill="#8e8e8e"/><path d="M946 1706 L1449 1706" stroke="#a8a8a8" stroke-width="2"/><path d="M1009 1630.5 L1385.5 1630.5 L1449 1703.5 L946 1703.5 Z" fill="#dcdcdc" stroke="#8a8a8a" stroke-width="2.2" stroke-linejoin="round"/><path d="M1010.5 1632.7 L1035.1 1632.7 L1025.2 1646.2 L999.1 1646.2 Z" fill="#fcfcfc"/><path d="M1037.4 1632.7 L1061.9 1632.7 L1053.6 1646.2 L1027.6 1646.2 Z" fill="#fcfcfc"/><path d="M1064.2 1632.7 L1088.8 1632.7 L1082.1 1646.2 L1056.1 1646.2 Z" fill="#fcfcfc"/><path d="M1091.0 1632.7 L1115.6 1632.7 L1110.6 1646.2 L1084.6 1646.2 Z" fill="#fcfcfc"/><path d="M1117.9 1632.7 L1142.4 1632.7 L1139.1 1646.2 L1113.0 1646.2 Z" fill="#fcfcfc"/><path d="M1144.7 1632.7 L1169.3 1632.7 L1167.6 1646.2 L1141.5 1646.2 Z" fill="#fcfcfc"/><path d="M1171.6 1632.7 L1196.1 1632.7 L1196.1 1646.2 L1170.0 1646.2 Z" fill="#fcfcfc"/><path d="M1198.4 1632.7 L1223.0 1632.7 L1224.6 1646.2 L1198.5 1646.2 Z" fill="#fcfcfc"/><path d="M1225.2 1632.7 L1249.8 1632.7 L1253.1 1646.2 L1227.0 1646.2 Z" fill="#fcfcfc"/><path d="M1252.1 1632.7 L1276.6 1632.7 L1281.6 1646.2 L1255.5 1646.2 Z" fill="#fcfcfc"/><path d="M1278.9 1632.7 L1303.5 1632.7 L1310.1 1646.2 L1284.0 1646.2 Z" fill="#fcfcfc"/><path d="M1305.8 1632.7 L1330.3 1632.7 L1338.5 1646.2 L1312.5 1646.2 Z" fill="#fcfcfc"/><path d="M1332.6 1632.7 L1357.1 1632.7 L1367.0 1646.2 L1341.0 1646.2 Z" fill="#fcfcfc"/><path d="M1359.4 1632.7 L1384.0 1632.7 L1395.5 1646.2 L1369.5 1646.2 Z" fill="#fcfcfc"/><path d="M997.9 1647.7 L1036.9 1647.7 L1029.2 1659.0 L988.3 1659.0 Z" fill="#fcfcfc"/><path d="M1039.4 1647.7 L1064.6 1647.7 L1058.2 1659.0 L1031.8 1659.0 Z" fill="#fcfcfc"/><path d="M1067.0 1647.7 L1092.3 1647.7 L1087.3 1659.0 L1060.8 1659.0 Z" fill="#fcfcfc"/><path d="M1094.7 1647.7 L1120.0 1647.7 L1116.3 1659.0 L1089.8 1659.0 Z" fill="#fcfcfc"/><path d="M1122.4 1647.7 L1147.7 1647.7 L1145.3 1659.0 L1118.8 1659.0 Z" fill="#fcfcfc"/><path d="M1150.1 1647.7 L1175.3 1647.7 L1174.3 1659.0 L1147.8 1659.0 Z" fill="#fcfcfc"/><path d="M1177.8 1647.7 L1203.0 1647.7 L1203.3 1659.0 L1176.9 1659.0 Z" fill="#fcfcfc"/><path d="M1205.4 1647.7 L1230.7 1647.7 L1232.3 1659.0 L1205.9 1659.0 Z" fill="#fcfcfc"/><path d="M1233.1 1647.7 L1258.4 1647.7 L1261.4 1659.0 L1234.9 1659.0 Z" fill="#fcfcfc"/><path d="M1260.8 1647.7 L1286.0 1647.7 L1290.4 1659.0 L1263.9 1659.0 Z" fill="#fcfcfc"/><path d="M1288.5 1647.7 L1313.7 1647.7 L1319.4 1659.0 L1292.9 1659.0 Z" fill="#fcfcfc"/><path d="M1316.2 1647.7 L1341.4 1647.7 L1348.4 1659.0 L1321.9 1659.0 Z" fill="#fcfcfc"/><path d="M1343.8 1647.7 L1369.1 1647.7 L1377.4 1659.0 L1351.0 1659.0 Z" fill="#fcfcfc"/><path d="M1371.5 1647.7 L1396.8 1647.7 L1406.4 1659.0 L1380.0 1659.0 Z" fill="#fcfcfc"/><path d="M987.0 1660.4 L1039.2 1660.4 L1032.0 1671.7 L977.4 1671.7 Z" fill="#fcfcfc"/><path d="M1041.7 1660.4 L1067.9 1660.4 L1062.1 1671.7 L1034.6 1671.7 Z" fill="#fcfcfc"/><path d="M1070.5 1660.4 L1096.7 1660.4 L1092.2 1671.7 L1064.8 1671.7 Z" fill="#fcfcfc"/><path d="M1099.3 1660.4 L1125.5 1660.4 L1122.3 1671.7 L1094.9 1671.7 Z" fill="#fcfcfc"/><path d="M1128.1 1660.4 L1154.3 1660.4 L1152.4 1671.7 L1125.0 1671.7 Z" fill="#fcfcfc"/><path d="M1156.9 1660.4 L1183.1 1660.4 L1182.5 1671.7 L1155.1 1671.7 Z" fill="#fcfcfc"/><path d="M1185.7 1660.4 L1211.9 1660.4 L1212.6 1671.7 L1185.2 1671.7 Z" fill="#fcfcfc"/><path d="M1214.5 1660.4 L1240.7 1660.4 L1242.7 1671.7 L1215.3 1671.7 Z" fill="#fcfcfc"/><path d="M1243.3 1660.4 L1269.5 1660.4 L1272.8 1671.7 L1245.4 1671.7 Z" fill="#fcfcfc"/><path d="M1272.1 1660.4 L1298.3 1660.4 L1302.9 1671.7 L1275.5 1671.7 Z" fill="#fcfcfc"/><path d="M1300.8 1660.4 L1327.1 1660.4 L1333.0 1671.7 L1305.6 1671.7 Z" fill="#fcfcfc"/><path d="M1329.6 1660.4 L1355.9 1660.4 L1363.2 1671.7 L1335.7 1671.7 Z" fill="#fcfcfc"/><path d="M1358.4 1660.4 L1407.7 1660.4 L1417.3 1671.7 L1365.8 1671.7 Z" fill="#fcfcfc"/><path d="M976.2 1673.2 L1045.7 1673.2 L1038.1 1686.3 L965.1 1686.3 Z" fill="#fcfcfc"/><path d="M1048.4 1673.2 L1075.7 1673.2 L1069.6 1686.3 L1040.9 1686.3 Z" fill="#fcfcfc"/><path d="M1078.5 1673.2 L1105.8 1673.2 L1101.2 1686.3 L1072.5 1686.3 Z" fill="#fcfcfc"/><path d="M1108.5 1673.2 L1135.9 1673.2 L1132.8 1686.3 L1104.1 1686.3 Z" fill="#fcfcfc"/><path d="M1138.6 1673.2 L1166.0 1673.2 L1164.4 1686.3 L1135.7 1686.3 Z" fill="#fcfcfc"/><path d="M1168.7 1673.2 L1196.0 1673.2 L1196.0 1686.3 L1167.3 1686.3 Z" fill="#fcfcfc"/><path d="M1198.7 1673.2 L1226.1 1673.2 L1227.6 1686.3 L1198.9 1686.3 Z" fill="#fcfcfc"/><path d="M1228.8 1673.2 L1256.2 1673.2 L1259.2 1686.3 L1230.5 1686.3 Z" fill="#fcfcfc"/><path d="M1258.9 1673.2 L1286.3 1673.2 L1290.8 1686.3 L1262.0 1686.3 Z" fill="#fcfcfc"/><path d="M1289.0 1673.2 L1316.3 1673.2 L1322.4 1686.3 L1293.6 1686.3 Z" fill="#fcfcfc"/><path d="M1319.0 1673.2 L1346.4 1673.2 L1354.0 1686.3 L1325.2 1686.3 Z" fill="#fcfcfc"/><path d="M1349.1 1673.2 L1418.6 1673.2 L1429.8 1686.3 L1356.8 1686.3 Z" fill="#fcfcfc"/><path d="M963.8 1687.8 L1000.7 1687.8 L990.8 1701.7 L952.1 1701.7 Z" fill="#fcfcfc"/><path d="M1003.5 1687.8 L1031.2 1687.8 L1022.8 1701.7 L993.8 1701.7 Z" fill="#fcfcfc"/><path d="M1034.0 1687.8 L1064.8 1687.8 L1058.1 1701.7 L1025.8 1701.7 Z" fill="#fcfcfc"/><path d="M1067.6 1687.8 L1101.4 1687.8 L1096.6 1701.7 L1061.1 1701.7 Z" fill="#fcfcfc"/><path d="M1104.2 1687.8 L1260.1 1687.8 L1263.3 1701.7 L1099.6 1701.7 Z" fill="#fcfcfc"/><path d="M1263.0 1687.8 L1299.8 1687.8 L1305.0 1701.7 L1266.3 1701.7 Z" fill="#fcfcfc"/><path d="M1302.7 1687.8 L1330.3 1687.8 L1337.1 1701.7 L1308.0 1701.7 Z" fill="#fcfcfc"/><path d="M1333.2 1687.8 L1360.9 1687.8 L1369.2 1701.7 L1340.1 1701.7 Z" fill="#fcfcfc"/><path d="M1363.7 1687.8 L1391.4 1687.8 L1401.2 1701.7 L1372.2 1701.7 Z" fill="#fcfcfc"/><path d="M1394.2 1687.8 L1431.1 1687.8 L1442.9 1701.7 L1404.2 1701.7 Z" fill="#fcfcfc"/><path d="M1036.8 1632.0 L1025.8 1646.9 M1063.5 1632.0 L1054.4 1646.9 M1090.3 1632.0 L1083.0 1646.9 M1117.0 1632.0 L1111.6 1646.9 M1143.8 1632.0 L1140.1 1646.9 M1170.5 1632.0 L1168.7 1646.9 M1197.3 1632.0 L1197.3 1646.9 M1224.0 1632.0 L1225.9 1646.9 M1250.8 1632.0 L1254.5 1646.9 M1277.5 1632.0 L1283.0 1646.9 M1304.2 1632.0 L1311.6 1646.9 M1331.0 1632.0 L1340.2 1646.9 M1357.7 1632.0 L1368.8 1646.9 M1038.6 1646.9 L1030.0 1659.7 M1066.2 1646.9 L1059.1 1659.7 M1093.8 1646.9 L1088.2 1659.7 M1121.4 1646.9 L1117.3 1659.7 M1149.0 1646.9 L1146.4 1659.7 M1176.6 1646.9 L1175.5 1659.7 M1204.2 1646.9 L1204.6 1659.7 M1231.8 1646.9 L1233.7 1659.7 M1259.4 1646.9 L1262.8 1659.7 M1287.0 1646.9 L1291.9 1659.7 M1314.6 1646.9 L1321.0 1659.7 M1342.2 1646.9 L1350.1 1659.7 M1369.8 1646.9 L1379.2 1659.7 M1040.9 1659.7 L1032.8 1672.5 M1069.6 1659.7 L1063.0 1672.5 M1098.3 1659.7 L1093.2 1672.5 M1127.0 1659.7 L1123.4 1672.5 M1155.7 1659.7 L1153.6 1672.5 M1184.4 1659.7 L1183.8 1672.5 M1213.1 1659.7 L1214.0 1672.5 M1241.8 1659.7 L1244.2 1672.5 M1270.5 1659.7 L1274.4 1672.5 M1299.3 1659.7 L1304.6 1672.5 M1328.0 1659.7 L1334.8 1672.5 M1356.7 1659.7 L1365.0 1672.5 M1047.4 1672.5 L1039.1 1687.1 M1077.4 1672.5 L1070.7 1687.1 M1107.4 1672.5 L1102.4 1687.1 M1137.4 1672.5 L1134.1 1687.1 M1167.4 1672.5 L1165.8 1687.1 M1197.4 1672.5 L1197.4 1687.1 M1227.4 1672.5 L1229.1 1687.1 M1257.4 1672.5 L1260.8 1687.1 M1287.4 1672.5 L1292.5 1687.1 M1317.4 1672.5 L1324.2 1687.1 M1347.3 1672.5 L1355.8 1687.1 M1002.6 1687.1 L991.7 1702.4 M1033.0 1687.1 L1023.9 1702.4 M1066.5 1687.1 L1059.3 1702.4 M1103.1 1687.1 L1097.8 1702.4 M1261.4 1687.1 L1265.0 1702.4 M1301.0 1687.1 L1306.8 1702.4 M1331.4 1687.1 L1339.0 1702.4 M1361.8 1687.1 L1371.1 1702.4 M1392.3 1687.1 L1403.2 1702.4" stroke="#5e5e5e" stroke-width="1.6"/><defs><filter id="tex" x="0" y="0" width="100%" height="100%"><feTurbulence type="fractalNoise" baseFrequency="0.35 0.18" numOctaves="2" seed="5" result="n"/><feColorMatrix in="n" type="matrix" values="0 0 0 0 0.35  0 0 0 0 0.35  0 0 0 0 0.32  0 0 0 -2.2 1.25" result="c"/><feComposite in="c" in2="SourceGraphic" operator="in"/></filter><filter id="texL" x="0" y="0" width="100%" height="100%"><feTurbulence type="fractalNoise" baseFrequency="0.3 0.3" numOctaves="2" seed="9" result="n"/><feColorMatrix in="n" type="matrix" values="0 0 0 0 0.97  0 0 0 0 0.97  0 0 0 0 0.94  0 0 0 -2.4 1.3" result="c"/><feComposite in="c" in2="SourceGraphic" operator="in"/></filter><clipPath id="ringClip"><path d="M114 841 C114 805 130 770 160 748 C178 736 198 729 214 727 L318 745 C345 747 380 755 423 771 C460 786 488 805 496 835 C500 865 492 890 462 915 C432 935 390 944 347 943 C300 943 260 935 233 927 C200 918 170 906 145 890 C122 874 114 860 114 841 Z M191 833 C195 820 210 810 233 805 C260 799 300 798 347 803 C390 808 420 818 430 832 C432 842 415 852 404 855 C380 864 360 868 330 869 C290 868 260 864 233 855 C212 848 196 842 191 833 Z" clip-rule="evenodd"/></clipPath><linearGradient id="coilG" x1="0" y1="0" x2="0" y2="1"><stop offset="0" stop-color="#bdbbb2"/><stop offset="0.5" stop-color="#c2c0b7"/><stop offset="1" stop-color="#a6a49b"/></linearGradient><linearGradient id="adSide" x1="0" y1="0" x2="0.25" y2="1"><stop offset="0" stop-color="#2a62d2"/><stop offset="0.3" stop-color="#3a7aea"/><stop offset="0.6" stop-color="#2564dc"/><stop offset="1" stop-color="#205cd4"/></linearGradient><linearGradient id="usbTop" x1="0" y1="0" x2="1" y2="1"><stop offset="0" stop-color="#e0dcc9"/><stop offset="1" stop-color="#d2cdbb"/></linearGradient><linearGradient id="bootG" x1="0" y1="0" x2="0" y2="1"><stop offset="0" stop-color="#b6b5ae"/><stop offset="1" stop-color="#8e8d88"/></linearGradient></defs><path d="M114 841 C114 805 130 770 160 748 C178 736 198 729 214 727 L318 745 C345 747 380 755 423 771 C460 786 488 805 496 835 C500 865 492 890 462 915 C432 935 390 944 347 943 C300 943 260 935 233 927 C200 918 170 906 145 890 C122 874 114 860 114 841 Z M191 833 C195 820 210 810 233 805 C260 799 300 798 347 803 C390 808 420 818 430 832 C432 842 415 852 404 855 C380 864 360 868 330 869 C290 868 260 864 233 855 C212 848 196 842 191 833 Z" fill="url(#coilG)" fill-rule="evenodd"/><g clip-path="url(#ringClip)"><rect x="100" y="690" width="410" height="270" fill="#a3a198"/><path d="M123.6 841.0 A182.1 91.8 0 1 0 487.9 841.0 A182.1 91.8 0 1 0 123.6 841.0 Z" fill="none" stroke="#55534b" stroke-width="19"/><path d="M123.6 841.0 A182.1 91.8 0 1 0 487.9 841.0 A182.1 91.8 0 1 0 123.6 841.0 Z" fill="none" stroke="#b9b7ad" stroke-width="14.5"/><path d="M124.6 838.5 A181.1 90.2 0 1 0 486.9 838.5 A181.1 90.2 0 1 0 124.6 838.5 Z" fill="none" stroke="#e9e8e0" stroke-width="4.5" opacity="0.85"/><path d="M121.6 845.0 A184.1 94.2 0 1 0 489.9 845.0 A184.1 94.2 0 1 0 121.6 845.0 Z" fill="none" stroke="#8a887f" stroke-width="3" opacity="0.7"/><path d="M142.9 839.0 A164.4 75.2 0 1 0 471.6 839.0 A164.4 75.2 0 1 0 142.9 839.0 Z" fill="none" stroke="#55534b" stroke-width="19"/><path d="M142.9 839.0 A164.4 75.2 0 1 0 471.6 839.0 A164.4 75.2 0 1 0 142.9 839.0 Z" fill="none" stroke="#b9b7ad" stroke-width="14.5"/><path d="M143.9 836.5 A163.4 73.8 0 1 0 470.6 836.5 A163.4 73.8 0 1 0 143.9 836.5 Z" fill="none" stroke="#e9e8e0" stroke-width="4.5" opacity="0.85"/><path d="M140.9 843.0 A166.4 77.8 0 1 0 473.6 843.0 A166.4 77.8 0 1 0 140.9 843.0 Z" fill="none" stroke="#8a887f" stroke-width="3" opacity="0.7"/><path d="M162.1 837.0 A146.6 58.8 0 1 0 455.4 837.0 A146.6 58.8 0 1 0 162.1 837.0 Z" fill="none" stroke="#55534b" stroke-width="19"/><path d="M162.1 837.0 A146.6 58.8 0 1 0 455.4 837.0 A146.6 58.8 0 1 0 162.1 837.0 Z" fill="none" stroke="#b9b7ad" stroke-width="14.5"/><path d="M163.1 834.5 A145.6 57.2 0 1 0 454.4 834.5 A145.6 57.2 0 1 0 163.1 834.5 Z" fill="none" stroke="#e9e8e0" stroke-width="4.5" opacity="0.85"/><path d="M160.1 841.0 A148.6 61.2 0 1 0 457.4 841.0 A148.6 61.2 0 1 0 160.1 841.0 Z" fill="none" stroke="#8a887f" stroke-width="3" opacity="0.7"/><path d="M181.4 835.0 A128.9 42.2 0 1 0 439.1 835.0 A128.9 42.2 0 1 0 181.4 835.0 Z" fill="none" stroke="#55534b" stroke-width="19"/><path d="M181.4 835.0 A128.9 42.2 0 1 0 439.1 835.0 A128.9 42.2 0 1 0 181.4 835.0 Z" fill="none" stroke="#b9b7ad" stroke-width="14.5"/><path d="M182.4 832.5 A127.9 40.8 0 1 0 438.1 832.5 A127.9 40.8 0 1 0 182.4 832.5 Z" fill="none" stroke="#e9e8e0" stroke-width="4.5" opacity="0.85"/><path d="M179.4 839.0 A130.9 44.8 0 1 0 441.1 839.0 A130.9 44.8 0 1 0 179.4 839.0 Z" fill="none" stroke="#8a887f" stroke-width="3" opacity="0.7"/><path d="M191 833 C195 820 210 810 233 805 C260 799 300 798 347 803 C390 808 420 818 430 832 L442 826 C420 798 380 786 330 783 C280 781 230 786 205 800 C190 810 185 822 191 833 Z" fill="#5f5d55" opacity="0.75"/><path d="M118 832 C122 792 158 752 214 734" fill="none" stroke="#5a584f" stroke-width="3" opacity="0.85"/><path d="M128 836 C134 800 166 764 222 746" fill="none" stroke="#eeede6" stroke-width="4" opacity="0.8"/><path d="M142 840 C150 806 180 776 236 758" fill="none" stroke="#55534b" stroke-width="3.5" opacity="0.85"/><path d="M156 842 C166 812 196 788 246 772" fill="none" stroke="#e6e5de" stroke-width="4" opacity="0.7"/><rect x="100" y="690" width="410" height="270" fill="#aaa" filter="url(#tex)" opacity="0.5"/><rect x="100" y="690" width="410" height="270" fill="#aaa" filter="url(#texL)" opacity="0.45"/></g><path d="M114 841 C114 805 130 770 160 748 C178 736 198 729 214 727 L318 745 C345 747 380 755 423 771 C460 786 488 805 496 835 C500 865 492 890 462 915 C432 935 390 944 347 943 C300 943 260 935 233 927 C200 918 170 906 145 890 C122 874 114 860 114 841 Z" fill="none" stroke="#9a988f" stroke-width="1.2" opacity="0.7"/><path d="M117 812 L152 806 L155 813 L120 821 Z" fill="#f4f4ef" opacity="0.95"/><path d="M152 890 C200 928 255 955 316 992" fill="none" stroke="#b1afa7" stroke-width="16" stroke-linecap="round"/><path d="M152 890 C200 928 255 955 316 992" fill="none" stroke="#aaa" stroke-width="16" filter="url(#tex)" opacity="0.6"/><path d="M152 890 C200 928 255 955 316 992" fill="none" stroke="#aaa" stroke-width="16" filter="url(#texL)" opacity="0.5"/><path d="M150 884 C200 922 255 948 316 985" fill="none" stroke="#7a786f" stroke-width="2" opacity="0.6"/><path d="M305 713 C360 700 420 712 478 750 C540 790 610 840 692 912" fill="none" stroke="#b9b7af" stroke-width="11.5" stroke-linecap="round"/><path d="M305 713 C360 700 420 712 478 750 C540 790 610 840 692 912" fill="none" stroke="#aaa" stroke-width="11.5" filter="url(#tex)" opacity="0.6"/><path d="M305 713 C360 700 420 712 478 750 C540 790 610 840 692 912" fill="none" stroke="#aaa" stroke-width="11.5" filter="url(#texL)" opacity="0.5"/><path d="M212 726 L288 695 L301 703 L318 741 L237 765 L214 733 Z" fill="#a7a59d" stroke="#8c8a82" stroke-width="1.5" stroke-linejoin="round"/><path d="M233 731 L282 710 L296 737 L241 761 Z" fill="#242a3a"/><path d="M237 745 L289 723 L292 729 L240 752 Z" fill="#5a647c" opacity="0.8"/><path d="M685 923 C686 912 694 903 703 901 L736 915 L744 912 L738 955 L724 966 L705 950 L686 930 Z" fill="url(#bootG)"/><path d="M716 906 L737 915 L733 958 L722 965 Z" fill="#8a8984" opacity="0.8"/><path d="M712 906 L716 908 L708 946 L704 944 Z" fill="#e8e8e2" opacity="0.7"/><path d="M738 955 L794.5 985.5 L792 1008.5 L784.5 1008.5 L728 977.5 L724 965.6 Z" fill="#a09e95"/><path d="M743.6 912 L832 956 Q838 960 834 965 L798 985 Q795 987 791 985 L738 955 Z" fill="url(#usbTop)" stroke="#a8a59a" stroke-width="1.5" stroke-linejoin="round"/><path d="M794.5 986.5 L845 1022.3 L840 1030 L792.5 1005.5 Z" fill="#a6a499"/><path d="M797 985.5 L835 966.6 L887 998.4 L845 1022.3 Z" fill="#dcd7c4" stroke="#b0ada2" stroke-width="1"/><path d="M843 1022 L884 999 Q889 997 888.5 1003 L886 1010 Q884 1016 878 1019 L847 1031 Q841 1033 839.5 1027 Z" fill="#0d0d0f"/><path d="M845 1021 L885 999" stroke="#c9c5b2" stroke-width="2"/><circle cx="829.2" cy="993.4" r="2.3" fill="#3a3a2e"/><circle cx="852" cy="983.5" r="2.3" fill="#3a3a2e"/><path d="M296 972 L318 992" stroke="#a3a29c" stroke-width="18" stroke-linecap="round"/><path d="M294 966 L314 984" stroke="#cfcec8" stroke-width="4" stroke-linecap="round" opacity="0.8"/><path d="M310 1007 L311.5 993 C318 982 330 977 341 977.5 C350 978 358 981 366 985 L380 989.5 C395 983 405 979.2 415 979.2 L449 978.4 C465 980 475 984 483 989.5 L518 1015 L561 1044.5 L604 1062 L624 1070 C628 1074 629.4 1080 629.4 1088 L629.4 1139 L569 1161.5 L517 1187.5 L492 1201 L458 1213 C452 1214 448 1213 445.6 1211 L432 1197.4 L406 1173.4 L363 1139 L311.5 1101 L280.6 1073.7 C276 1066 274 1058 274.6 1053 C275 1045 277 1040 282 1035 L294 1024 L310 1015 Z" fill="#2a64d0"/><path d="M276 1046 C300 1060 380 1090 432 1105 C440 1110 446 1118 449 1124 L470 1160 L478 1190 L458 1213 C452 1214 448 1213 445.6 1211 L432 1197.4 L406 1173.4 L363 1139 L311.5 1101 L280.6 1073.7 C276 1066 274 1058 276 1046 Z" fill="url(#adSide)"/><path d="M282 1035 L294 1024 L310 1015 L310 1007 L311.5 993 C318 982 330 977 341 977.5 C350 978 358 981 366 985 L380 989.5 C395 983 405 979.2 415 979.2 L449 978.4 C465 980 475 984 483 989.5 L518 1015 L561 1044.5 L604 1062 L624 1070 C600 1078 520 1100 449 1120 C440 1108 432 1104 420 1100 C380 1088 310 1062 278 1046 Z" fill="#406eb5"/><path d="M277 1068 L280.6 1073.7 L311.5 1101 L363 1139 L406 1173.4 L432 1197.4 L446 1211" fill="none" stroke="#0e3c9e" stroke-width="2.5" opacity="0.8"/><path d="M278 1047 C310 1063 380 1089 420 1101 C432 1104 440 1110 449 1121" fill="none" stroke="#5a94f4" stroke-width="4" opacity="0.8"/><path d="M280 1060 C320 1078 390 1104 425 1117 C436 1122 444 1130 452 1140" fill="none" stroke="#1c4fc4" stroke-width="2.5" opacity="0.6"/><path d="M313 1003 C330 996 352 998 372 1006 L430 1028" fill="none" stroke="#2a55b0" stroke-width="3" opacity="0.5"/><path d="M314 988 C328 981 344 981 362 987" fill="none" stroke="#5a90ee" stroke-width="3" opacity="0.6"/><path d="M449 1122 C520 1100 600 1078 624 1070 C628 1074 629.4 1080 629.4 1088 L629.4 1139 L569 1161.5 L517 1187.5 L492 1201 L458 1213 C452 1214 448 1213 445.6 1211 L455 1180 Z" fill="#2e6cdc"/><path d="M452 1125 C520 1104 598 1082 622 1074" fill="none" stroke="#5c9cf4" stroke-width="3" opacity="0.7"/><path d="M373.4 1046.2 L462.7 1010.1 L500.5 1034.2 L414.6 1072 Z" fill="#f2f2ea" stroke="#1f3f80" stroke-width="1.5" stroke-linejoin="round"/><path d="M408 1045 L466 1022" stroke="#2a2a2a" stroke-width="3"/><path d="M417 1053 L474 1030" stroke="#777" stroke-width="1.5"/><path d="M437 1109.8 L588.2 1053 L600.2 1066.8 L449 1123.5 Z" fill="#efefe6"/><path d="M452 1115 L590 1063" stroke="#222" stroke-width="5" stroke-dasharray="5 4"/><path d="M468 1154.5 L514.3 1132 L596.8 1097.8 L629.4 1121.8 L627.7 1140.7 L569.3 1161.3 L517.7 1187 L478.2 1190.5 L468 1173.4 Z" fill="#101116"/><path d="M517 1148 L597 1114 L601 1150 L526 1187 Z" fill="#07080c"/><path d="M516 1147 L597 1113" stroke="#e6dcbc" stroke-width="4.2" stroke-linecap="round"/><path d="M517 1149 L521 1182" stroke="#d6ccac" stroke-width="3" stroke-linecap="round"/><circle cx="510.5" cy="1137.9" r="2.2" fill="#cfc7ae"/><circle cx="525.9" cy="1132.3" r="2.2" fill="#cfc7ae"/><circle cx="541.3" cy="1126.5" r="2.2" fill="#cfc7ae"/><circle cx="559.3" cy="1120.2" r="2.2" fill="#cfc7ae"/><circle cx="578.1" cy="1114.4" r="2.2" fill="#cfc7ae"/><path d="M490 1170 L500 1166 L506 1174 L503 1184 L493 1187 L487 1179 Z" fill="#0a0a0a" stroke="#d8d0b4" stroke-width="2.2" stroke-linejoin="round"/><ellipse cx="621" cy="1125" rx="8" ry="6.5" fill="#0a0a0a" stroke="#9a9078" stroke-width="1.5"/><path d="M614 1121 Q620 1117 627 1120" stroke="#e0d6b8" stroke-width="2" fill="none"/><path d="M1993.5 1754 L1982 1773 L1998 1773 Z" fill="#eeeef2" filter="url(#blur1)"/><ellipse cx="1688.1" cy="248" rx="6.4" ry="7.2" fill="#000"/><ellipse cx="1732.7" cy="248" rx="6.4" ry="7.2" fill="#000"/><ellipse cx="1779.2" cy="248" rx="6.4" ry="7.2" fill="#000"/><ellipse cx="1828.2" cy="248" rx="6.4" ry="7.2" fill="#000"/><ellipse cx="1875.2" cy="248" rx="6.4" ry="7.2" fill="#000"/><g font-family="Liberation Sans" font-weight="bold" font-size="74" fill="#000"><text x="833" y="730.5" textLength="137" lengthAdjust="spacingAndGlyphs">USB</text><text x="986.5" y="730.5" textLength="72" lengthAdjust="spacingAndGlyphs">to</text><text x="1072" y="730.5" textLength="122" lengthAdjust="spacingAndGlyphs">485</text></g><g font-family="Liberation Sans" font-size="67" fill="#000" stroke="#000" stroke-width="2"><text x="1606" y="1235" textLength="655" lengthAdjust="spacingAndGlyphs">Real-time data display</text><text x="1606" y="1323.5" textLength="610" lengthAdjust="spacingAndGlyphs">Historical data query</text><text x="1609" y="1412" textLength="341" lengthAdjust="spacingAndGlyphs">data export</text></g>
</svg>
</body></html>
